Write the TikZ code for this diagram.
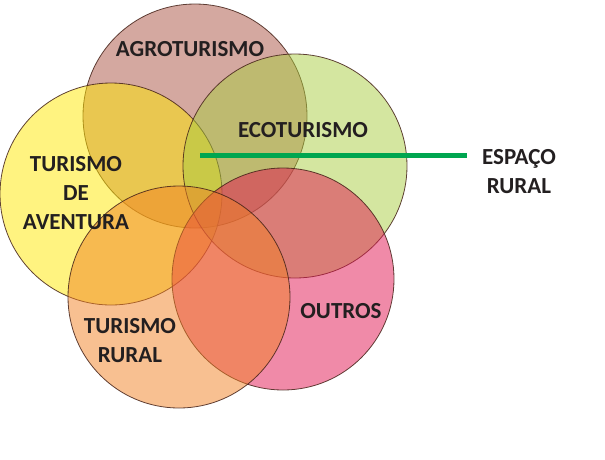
\documentclass[tikz,border=0pt]{standalone}
\usepackage{fontspec}
\setmainfont{Carlito}
\definecolor{corAgro}{RGB}{169,81,65}
\definecolor{corEco}{RGB}{169,205,65}
\definecolor{corAvent}{RGB}{255,231,1}
\definecolor{corRural}{RGB}{241,129,35}
\definecolor{corOutros}{RGB}{225,21,81}
\definecolor{verde}{RGB}{0,166,80}
\definecolor{contorno}{RGB}{70,35,25}
\definecolor{texto}{RGB}{35,31,32}
\begin{document}
\begin{tikzpicture}[x=1pt,y=-1pt, font=\bfseries\fontsize{23}{29}\selectfont, line join=round, line cap=round]
	\tikzset{roda/.style={circle, draw=contorno, draw opacity=.85, line width=.8pt, fill opacity=.5, inner sep=0pt, minimum size=#1}}
	\tikzset{rotulo/.style={text=texto, align=center, inner sep=0pt}}
	\useasboundingbox (0,0) rectangle (605,459);
	% circulos
	\node[roda=224pt, fill=corAgro] (agro) at (195,116) {};
	\node[roda=222pt, fill=corAvent] (avent) at (111,194) {};
	\node[roda=224pt, fill=corEco] (eco) at (295,166) {};
	\node[roda=222pt, fill=corOutros] (outros) at (283,279) {};
	\node[roda=222pt, fill=corRural] (rural) at (179,297) {};
	\node[rotulo] (tagro) at (190,49) {AGROTURISMO};
	\node[rotulo] (teco) at (303,130) {ECOTURISMO};
	\node[rotulo] (tavent) at (76,193) {TURISMO\\DE\\AVENTURA};
	\node[rotulo] (trural) at (130,341) {TURISMO\\RURAL};
	\node[rotulo] (toutros) at (341,311) {OUTROS};
	\node[rotulo, inner xsep=15pt] (espaco) at (519,172) {ESPAÇO\\RURAL};
	\coordinate (centro) at (200,155);
	\draw[verde, line width=5pt, line cap=butt] (centro) -- (centro -| espaco.west);
\end{tikzpicture}
\end{document}
